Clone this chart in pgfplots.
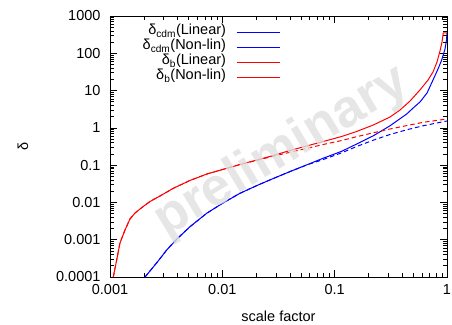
\documentclass[border=0pt]{standalone}
\usepackage{fontspec}
\setmainfont{Liberation Sans}
\usepackage{pgfplots}
\pgfplotsset{compat=1.18}
\definecolor{gpred}{RGB}{255,0,0}
\definecolor{gpblue}{RGB}{0,0,255}
\definecolor{wmgray}{RGB}{224,224,224}
\begin{document}
\begin{tikzpicture}
\useasboundingbox (-110bp,-48bp) rectangle (342bp,277bp);
\begin{axis}[
  name=ax,
  at={(0,0)}, anchor=south west,
  scale only axis, width=337bp, height=261bp,
  xmode=log, ymode=log,
  xmin=0.001, xmax=1, ymin=0.0001, ymax=1000,
  xtick={0.001,0.01,0.1,1}, xticklabels={0.001,0.01,0.1,1},
  ytick={0.0001,0.001,0.01,0.1,1,10,100,1000},
  yticklabels={0.0001,0.001,0.01,0.1,1,10,100,1000},
  minor xtick={0.002,0.003,0.004,0.005,0.006,0.007,0.008,0.009,0.02,0.03,0.04,0.05,0.06,0.07,0.08,0.09,0.2,0.3,0.4,0.5,0.6,0.7,0.8,0.9},
  minor ytick={2e-4,3e-4,4e-4,5e-4,6e-4,7e-4,8e-4,9e-4,2e-3,3e-3,4e-3,5e-3,6e-3,7e-3,8e-3,9e-3,2e-2,3e-2,4e-2,5e-2,6e-2,7e-2,8e-2,9e-2,0.2,0.3,0.4,0.5,0.6,0.7,0.8,0.9,2,3,4,5,6,7,8,9,20,30,40,50,60,70,80,90,200,300,400,500,600,700,800,900},
  tick align=inside, major tick length=7bp, minor tick length=4bp,
  every tick/.style={black, line width=0.6pt},
  axis line style={line width=0.9pt},
  tick label style={font=\fontsize{14.5bp}{16bp}\selectfont},
  xticklabel style={yshift=-4bp},
  yticklabel style={xshift=-6bp},
  xlabel={scale factor}, ylabel={δ},
  label style={font=\fontsize{14.5bp}{16bp}\selectfont},
  xlabel style={at={(axis description cs:0.5,0)}, anchor=base, yshift=-44.5bp},
  ylabel style={at={(axis description cs:-0.258,0.5)}, anchor=center},
  legend style={draw=none, fill=none, at={(axis description cs:0.5045,0.9674)}, anchor=north east,
    inner sep=0pt, outer sep=0pt, font=\fontsize{14.5bp}{16bp}\selectfont,
    column sep=10bp, row sep=0pt,
    nodes={inner sep=0pt, text height=10.3bp, text depth=4.7bp}},
  legend cell align=right,
  legend plot pos=right,
  legend image code/.code={\draw[line width=1pt, dash pattern=on 60bp off 1bp, #1] (0bp,0bp) -- (43bp,0bp);},
  every axis plot/.append style={line width=1pt, line join=round},
]
% delta_cdm linear
\addplot[draw=gpblue, dash pattern=on 4.5bp off 3bp] coordinates {
(0.00205,1e-4) (0.00227,0.000145) (0.0026,0.000238) (0.0032,0.000531) (0.00395,0.00105)
(0.00516,0.00224) (0.00726,0.00512) (0.01014,0.00966) (0.01437,0.0176) (0.02035,0.02847)
(0.02843,0.04387) (0.04003,0.0672) (0.05637,0.101) (0.0792,0.1418) (0.1155,0.2145)
(0.1571,0.3165) (0.2208,0.467) (0.311,0.6643) (0.4378,0.8876) (0.615,1.14) (1,1.53)};
\addlegendentry{δ\textsubscript{cdm}(Linear)}
% delta_cdm nonlinear
\addplot[draw=gpblue] coordinates {
(0.00205,1e-4) (0.00227,0.000145) (0.0026,0.000238) (0.0032,0.000531) (0.00395,0.00105)
(0.00516,0.00224) (0.00726,0.00512) (0.01014,0.00966) (0.01437,0.0176) (0.02035,0.02847)
(0.02843,0.04387) (0.04003,0.0672) (0.05637,0.1016) (0.0792,0.1537) (0.1155,0.2353)
(0.1571,0.3693) (0.2208,0.6128) (0.311,1.136) (0.4378,2.355) (0.51,3.6) (0.575,4.94) (0.664,8.61)
(0.7507,19.2) (0.832,37.9) (0.897,66.1) (0.96,130) (0.99,227) (1,350)};
\addlegendentry{δ\textsubscript{cdm}(Non-lin)}
% delta_b linear
\addplot[draw=gpred, dash pattern=on 4.5bp off 3bp] coordinates {
(0.00107,1e-4) (0.001147,0.000286) (0.001227,0.000818) (0.00136,0.00182) (0.001507,0.0036)
(0.00167,0.00521) (0.00185,0.00667) (0.00227,0.0106) (0.00279,0.0149) (0.00364,0.0237)
(0.00515,0.0388) (0.00731,0.058) (0.01014,0.0769) (0.01437,0.1042) (0.02035,0.135)
(0.02843,0.1739) (0.04003,0.2213) (0.05637,0.2816) (0.0792,0.3581) (0.1155,0.458)
(0.1571,0.58) (0.2208,0.738) (0.311,0.933) (0.4378,1.15) (0.615,1.41) (1,1.73)};
\addlegendentry{δ\textsubscript{b}(Linear)}
% delta_b nonlinear
\addplot[draw=gpred] coordinates {
(0.00107,1e-4) (0.001147,0.000286) (0.001227,0.000818) (0.00136,0.00182) (0.001507,0.0036)
(0.00167,0.00521) (0.00185,0.00667) (0.00227,0.0106) (0.00279,0.0149) (0.00364,0.0237)
(0.00515,0.0388) (0.00731,0.058) (0.01014,0.0769) (0.01437,0.1042) (0.02035,0.1375)
(0.02843,0.1816) (0.04003,0.247) (0.05637,0.3266) (0.0792,0.431) (0.1155,0.587)
(0.1571,0.80) (0.2208,1.194) (0.311,1.956) (0.382,3.01) (0.469,5.26) (0.575,10.4)
(0.678,19.2) (0.7507,31.5) (0.815,58.4) (0.866,115) (0.903,201) (0.927,355) (1,355)};
\addlegendentry{δ\textsubscript{b}(Non-lin)}
\end{axis}
\node[rotate=31, font=\fontsize{53bp}{53bp}\selectfont\bfseries, text=wmgray, opacity=0.8]
  at ([xshift=3.4bp,yshift=-5.5bp]ax.center) {preliminary};
\end{tikzpicture}
\end{document}
